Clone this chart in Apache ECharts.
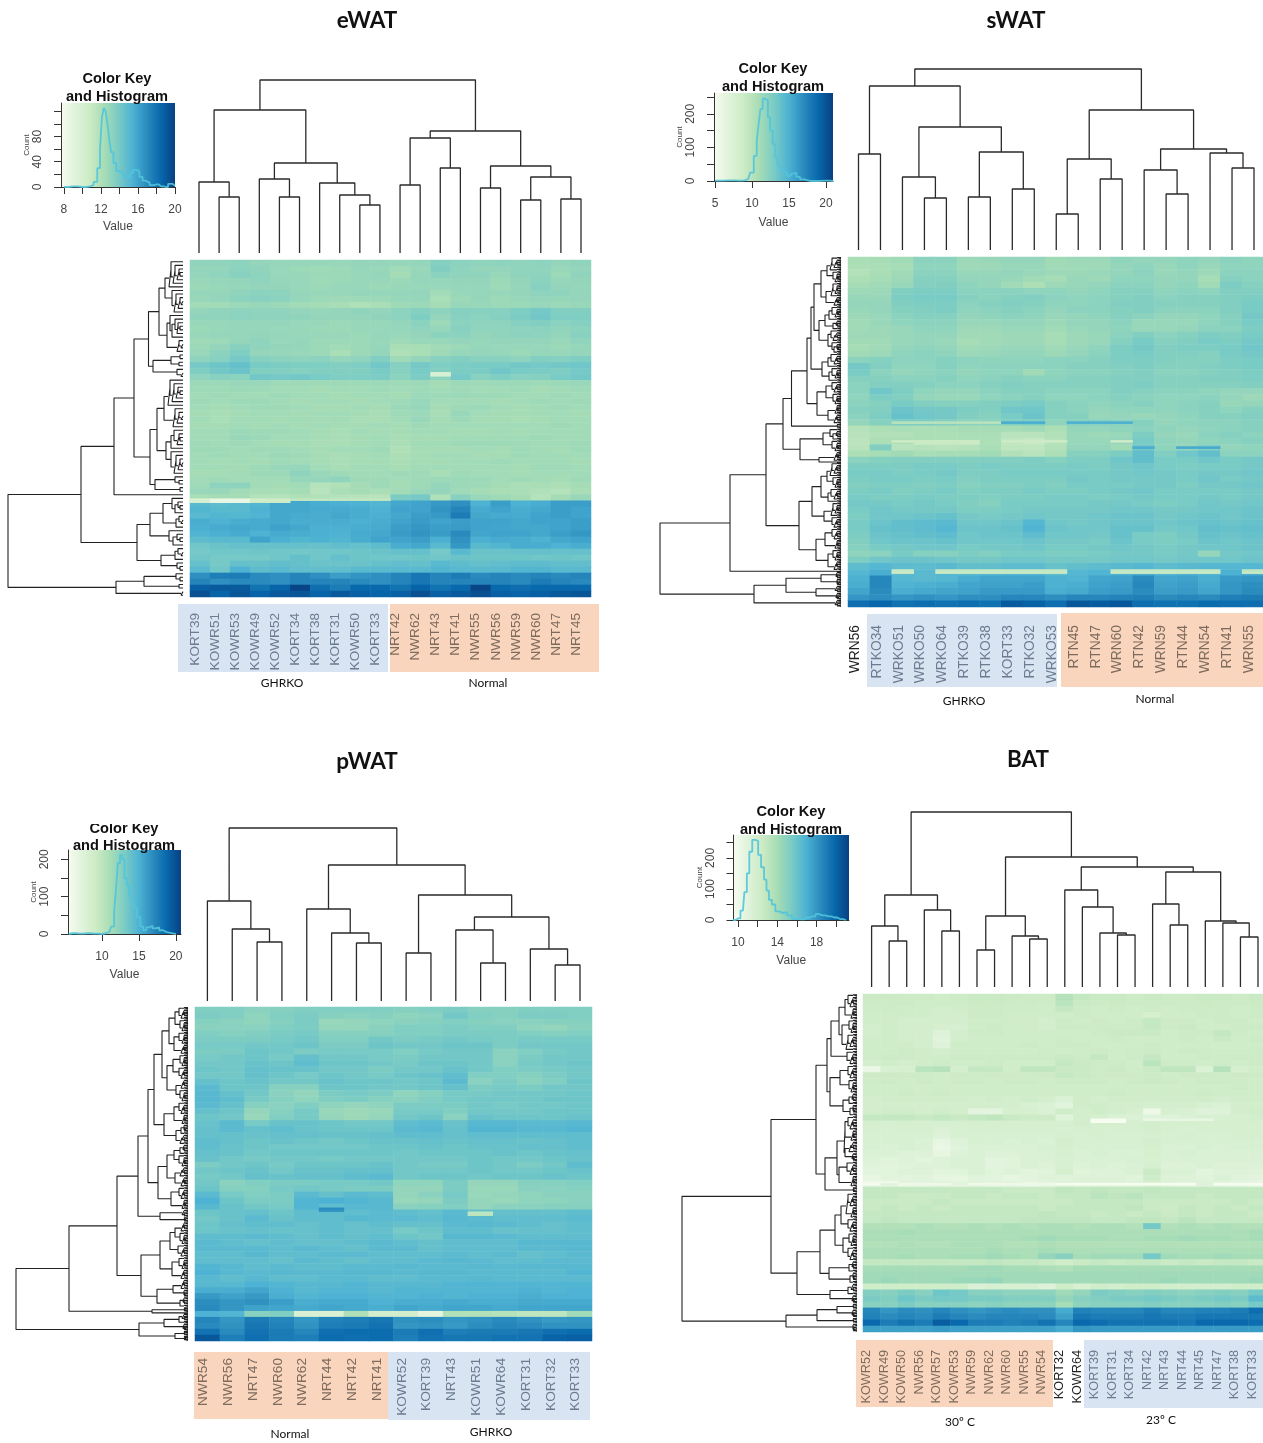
<!DOCTYPE html>
<html><head><meta charset="utf-8">
<style>html,body{margin:0;padding:0;background:#fff}#c{width:1263px;height:1443px}#c canvas{filter:blur(.45px)}</style>
<script src="https://cdn.jsdelivr.net/npm/echarts@6/dist/echarts.min.js"></script>
</head><body><div id="c"></div>
<script>
// ---- sample labels
const eWATLabels=['KORT39','KOWR51','KOWR53','KOWR49','KOWR52','KORT34','KORT38','KORT31','KOWR50','KORT33','NRT42','NWR62','NRT43','NRT41','NWR55','NWR56','NWR59','NWR60','NRT47','NRT45'];
const sWATLabels=['WRN56','RTKO34','WRKO51','WRKO50','WRKO64','RTKO39','RTKO38','KORT33','RTKO32','WRKO53','RTN45','RTN47','WRN60','RTN42','WRN59','RTN44','WRN54','RTN41','WRN55'];
const pWATLabels=['NWR54','NWR56','NRT47','NWR60','NWR62','NRT44','NRT42','NRT41','KOWR52','KORT39','NRT43','KOWR51','KOWR64','KORT31','KORT32','KORT33'];
const BATLabels=['KOWR52','KOWR49','KOWR50','NWR56','KOWR57','KOWR53','NWR59','NWR62','NWR60','NWR55','NWR54','KORT32','KOWR64','KORT39','KORT31','KORT34','NRT42','NRT43','NRT44','NRT45','NRT47','KORT38','KORT33'];

// ---- expression values (value x 10), top row first
const eWATRows=[
[131,131,132,130,129,129,129,128,130,130,129,130,135,133,131,132,131,132,130,131],
[130,130,133,131,128,127,126,127,129,128,125,128,136,132,130,130,131,131,128,130],
[130,131,134,132,128,128,127,127,128,129,124,129,133,131,131,128,131,132,127,131],
[128,129,130,131,129,128,126,127,128,128,127,129,129,130,130,127,130,133,129,130],
[127,128,129,130,130,128,127,128,128,127,128,128,128,129,129,126,129,134,130,129],
[129,129,131,133,132,129,128,128,129,129,129,130,125,128,129,128,130,132,131,130],
[128,130,133,134,133,129,127,126,127,127,128,129,122,127,129,127,128,130,129,130],
[125,125,127,128,127,125,124,123,120,122,126,127,124,128,128,127,127,128,127,128],
[130,131,132,131,131,130,129,130,131,130,132,135,132,135,134,134,137,140,136,136],
[131,131,133,132,132,131,130,130,130,131,132,137,130,134,133,135,138,141,137,137],
[128,128,129,129,130,128,128,127,128,128,130,133,127,133,132,132,135,136,133,135],
[127,128,129,129,128,128,127,127,128,128,129,131,129,134,131,131,132,133,131,133],
[128,129,129,130,129,128,128,128,127,129,128,130,133,133,130,131,133,132,130,134],
[126,127,130,131,128,129,127,127,127,128,126,128,128,130,129,130,130,130,128,131],
[127,130,134,131,130,129,127,125,127,129,122,123,125,127,129,128,128,128,127,129],
[128,133,137,130,129,128,127,122,127,130,120,122,126,129,130,129,127,129,128,130],
[132,134,140,135,133,132,133,130,131,136,126,130,134,136,134,134,132,136,135,137],
[140,143,146,139,138,137,137,136,137,141,135,140,137,138,139,139,141,140,141,142],
[137,141,144,136,136,135,136,136,136,139,134,139,136,138,138,142,139,138,137,140],
[131,134,133,141,140,141,139,137,137,138,133,138,132,140,134,137,134,135,139,141],
[127,127,128,128,126,126,126,126,126,127,126,127,124,127,126,127,127,126,127,128],
[126,126,127,126,125,125,124,125,125,126,125,126,125,126,125,125,126,124,125,126],
[125,126,125,125,126,125,125,124,125,125,124,127,126,127,126,126,125,125,126,125],
[126,125,126,127,125,124,125,125,124,125,126,128,125,125,125,124,125,126,125,126],
[125,124,125,126,126,125,124,124,125,124,127,129,124,126,127,125,124,125,126,125],
[124,123,124,125,125,124,125,125,124,123,126,127,123,128,125,124,124,125,125,124],
[125,122,125,125,124,125,124,125,123,123,125,128,124,127,124,124,123,124,125,125],
[124,124,125,124,125,124,125,124,124,125,124,126,125,125,125,125,125,125,126,125],
[125,125,127,126,126,125,124,123,125,124,124,125,125,124,124,125,124,125,125,125],
[125,125,128,127,125,125,124,123,124,125,123,124,124,125,125,125,125,126,125,125],
[126,125,126,125,124,124,123,122,124,125,122,125,125,126,126,126,126,125,125,126],
[126,126,125,126,126,125,124,125,125,126,120,124,124,124,125,124,126,125,124,126],
[125,126,125,125,127,126,124,123,124,125,121,124,125,125,124,124,126,125,125,125],
[125,124,125,124,126,125,124,122,124,124,122,124,124,125,125,126,125,125,125,124],
[125,125,124,126,128,129,125,123,125,125,123,125,125,125,125,125,124,126,126,125],
[124,124,125,127,127,132,128,126,125,125,126,126,123,126,125,125,124,125,125,125],
[125,126,125,125,125,129,130,131,126,126,125,126,127,127,127,125,126,125,124,126],
[126,132,132,125,124,125,118,120,124,126,124,126,130,127,126,124,122,123,121,124],
[128,128,125,123,122,124,116,122,124,122,125,128,130,126,124,123,122,120,118,123],
[122,124,124,118,118,120,120,118,116,116,138,140,120,134,128,126,124,118,124,128],
[150,148,150,152,158,158,156,155,154,152,158,160,164,168,154,162,154,156,162,162],
[152,150,150,154,158,158,157,157,156,154,160,160,166,172,157,160,156,158,162,160],
[150,152,151,153,158,157,156,158,156,155,158,162,164,176,158,157,157,160,162,160],
[156,154,156,157,158,156,156,156,155,156,160,163,160,162,160,160,158,160,160,162],
[155,157,158,157,161,158,155,155,156,157,162,165,162,163,160,159,158,158,160,162],
[153,155,157,154,157,156,155,154,157,158,163,166,163,170,159,160,160,158,162,165],
[148,150,150,160,155,152,154,152,156,160,160,162,155,167,155,157,156,154,158,160],
[142,144,146,145,146,146,145,147,146,148,156,158,150,165,150,152,156,156,154,156],
[140,142,142,143,142,141,142,142,143,144,146,146,140,150,144,144,145,146,145,146],
[142,140,140,140,142,146,142,146,143,142,142,143,142,144,143,143,143,142,143,142],
[146,140,146,145,147,146,144,144,144,146,147,146,150,148,146,147,148,148,147,147],
[150,142,154,148,150,147,147,147,150,150,150,150,152,150,150,150,152,152,150,150],
[168,175,176,170,168,172,168,162,166,168,172,178,172,176,170,172,170,172,170,172],
[172,168,170,170,168,172,172,172,170,168,172,178,172,172,172,172,170,176,172,170],
[188,190,190,180,186,198,182,176,184,184,180,186,180,184,198,184,182,184,184,184],
[194,186,192,186,190,192,186,190,188,186,188,194,188,190,194,188,186,188,190,192]];

const sWATRows=[
[108,110,112,122,122,114,116,118,118,112,114,114,120,118,118,120,118,122,120],
[106,108,110,120,120,113,114,116,116,112,113,113,118,120,116,120,116,120,120],
[103,108,112,122,122,116,116,118,116,114,114,116,118,122,116,118,114,122,122],
[106,110,114,124,124,118,118,116,112,110,116,114,120,120,118,118,110,124,122],
[110,112,116,125,126,120,118,112,106,114,116,118,122,122,118,120,112,128,124],
[113,114,126,128,128,122,122,122,120,120,118,120,124,124,120,122,120,126,126],
[116,116,128,130,130,124,122,124,126,122,120,122,124,126,122,124,124,126,128],
[118,118,126,128,128,122,124,126,124,120,120,122,126,126,124,124,124,126,130],
[116,118,124,126,128,120,122,124,122,118,122,122,124,126,122,122,122,126,130],
[114,116,122,124,124,118,120,122,120,116,118,120,124,122,118,118,120,124,132],
[112,116,120,122,122,116,116,118,118,114,118,118,122,116,116,116,120,124,130],
[112,114,116,120,120,114,114,116,116,112,116,118,120,116,116,118,122,122,128],
[114,114,116,118,118,112,112,114,114,110,114,116,122,126,122,124,128,126,130],
[112,112,116,118,116,110,112,114,114,110,114,116,124,130,124,126,130,128,132],
[110,112,118,120,118,112,114,116,116,112,116,120,128,132,126,128,128,130,134],
[112,114,120,122,120,114,116,118,118,114,118,122,128,130,126,126,124,130,132],
[122,124,122,122,124,122,120,120,120,122,122,124,128,128,126,124,124,128,130],
[132,126,120,120,124,120,122,122,122,122,124,124,126,128,124,124,126,128,130],
[130,122,118,120,122,118,120,120,112,120,122,122,124,126,122,122,124,126,128],
[124,124,122,122,124,120,122,124,122,122,124,124,126,126,124,124,126,126,128],
[122,126,126,124,122,122,124,126,124,124,124,124,126,128,124,124,124,124,126],
[122,134,128,120,118,118,122,124,124,122,122,122,126,124,122,122,120,118,118],
[120,128,126,118,116,116,120,122,124,120,120,122,124,122,120,120,122,118,114],
[122,124,130,126,124,124,126,128,130,124,122,120,122,124,120,122,124,116,118],
[124,126,136,132,132,128,126,134,134,124,122,118,120,120,120,122,124,120,124],
[122,128,138,134,132,126,124,130,136,124,124,116,118,116,118,120,124,124,126],
[118,124,128,128,126,122,122,126,128,120,124,124,122,124,118,120,122,122,124],
[102,106,108,106,108,110,110,110,112,106,118,118,120,122,120,118,120,122,124],
[100,104,104,106,106,108,108,100,100,104,116,114,116,128,118,116,122,124,122],
[98,106,106,106,106,106,106,96,92,102,116,116,118,130,120,118,120,122,124],
[100,126,100,102,100,102,108,96,96,104,118,118,112,132,120,118,126,118,120],
[106,110,112,108,110,110,112,104,100,106,124,124,128,140,126,134,140,122,122],
[122,124,126,126,126,126,126,126,128,124,128,128,134,140,130,130,134,130,132],
[128,128,128,130,130,128,130,128,128,128,130,128,132,134,130,128,130,130,132],
[130,130,128,130,132,128,128,130,130,130,130,130,132,134,132,130,132,132,134],
[128,130,130,128,130,126,128,128,128,128,132,130,132,132,132,130,134,130,132],
[126,128,128,126,128,124,126,126,128,126,130,130,130,132,132,128,132,132,134],
[128,130,126,128,130,126,128,128,130,128,128,130,132,134,130,130,130,130,132],
[130,128,128,130,128,128,126,128,128,130,130,128,130,132,130,130,132,130,132],
[132,132,130,132,130,126,124,130,130,130,130,132,132,130,128,130,134,132,134],
[130,134,132,132,132,128,128,130,132,132,132,132,134,134,132,132,134,134,136],
[128,134,134,136,138,132,130,132,134,132,132,134,136,136,132,134,136,134,136],
[130,136,140,142,144,134,134,136,146,134,132,134,136,136,134,136,138,136,138],
[130,138,140,142,146,136,136,138,148,136,134,134,138,138,132,134,140,138,140],
[128,136,138,140,142,134,136,136,142,134,134,132,138,130,128,132,138,136,138],
[126,134,136,136,138,134,134,134,136,132,132,130,136,130,128,130,136,134,136],
[124,130,132,134,134,130,132,132,134,130,130,132,134,132,130,132,134,134,136],
[120,122,130,124,124,128,126,130,130,128,128,130,132,132,130,132,118,132,134],
[128,134,136,136,134,132,132,134,134,132,132,132,134,134,132,134,134,134,136],
[142,146,142,142,144,140,140,142,142,138,140,142,144,146,142,144,146,146,146],
[146,152,144,144,146,144,146,148,148,142,146,148,150,152,148,150,148,150,152],
[150,172,146,144,146,152,156,156,156,150,148,156,158,170,156,158,152,162,164],
[152,172,148,150,152,156,158,158,160,150,152,158,160,172,158,160,154,164,168],
[156,170,152,154,156,158,162,162,162,152,154,160,162,170,160,162,156,164,170],
[164,168,164,166,164,168,168,172,172,168,172,172,174,176,170,172,170,176,178],
[186,190,184,186,184,186,184,196,192,186,198,196,198,186,184,184,188,186,186]];

const pWATRows=[
[128,128,124,126,128,128,128,128,126,128,130,126,126,128,128,128],
[130,128,122,128,130,126,124,126,122,124,134,128,126,130,130,128],
[126,124,122,126,130,118,120,122,124,126,128,126,124,124,126,126],
[124,124,124,128,130,120,120,124,128,128,130,128,128,122,120,124],
[128,126,128,130,132,126,126,126,128,128,130,130,130,128,126,128],
[130,130,130,132,134,128,128,134,130,132,134,132,130,132,132,132],
[132,132,134,134,136,130,130,136,134,134,136,136,130,134,134,134],
[130,130,136,134,130,132,132,132,128,132,134,134,124,128,132,134],
[132,134,136,132,140,134,134,132,130,134,134,134,124,130,134,134],
[134,134,138,136,142,136,136,134,132,136,136,134,124,132,134,136],
[136,134,140,138,138,134,134,130,134,134,138,134,128,130,132,134],
[134,134,140,136,132,136,134,132,136,138,142,128,128,126,130,134],
[140,136,138,134,134,138,136,136,134,136,144,124,130,124,128,136],
[144,136,136,126,126,136,136,134,134,136,140,130,132,130,134,134],
[146,140,134,124,120,130,132,130,122,126,132,132,134,134,134,136],
[146,142,132,126,122,128,130,126,124,128,132,134,134,134,136,136],
[144,140,126,124,128,122,120,122,130,130,130,134,132,134,134,136],
[140,136,120,126,132,118,116,118,132,132,128,134,134,134,136,136],
[136,134,118,128,132,120,116,120,134,136,124,138,136,136,136,138],
[138,144,132,138,138,136,134,134,142,144,138,146,146,144,144,146],
[140,144,140,142,138,136,136,136,144,146,140,148,148,146,146,148],
[140,140,138,140,140,138,138,140,142,142,140,142,142,142,142,142],
[142,140,136,138,136,134,136,138,138,140,138,140,140,138,140,142],
[142,138,136,134,134,134,134,136,136,138,136,138,138,140,140,142],
[140,138,134,136,136,136,136,136,134,136,136,136,138,136,138,140],
[138,134,132,134,134,132,134,134,134,134,134,136,134,134,136,138],
[130,134,136,132,136,136,136,138,134,132,132,136,134,130,134,142],
[134,136,138,134,138,138,140,140,134,134,134,136,134,134,136,138],
[132,134,140,138,140,140,142,144,134,136,136,134,136,136,138,136],
[134,124,128,130,130,132,132,134,122,122,130,120,120,126,126,128],
[136,126,126,132,134,132,130,130,120,120,130,118,118,124,124,126],
[144,132,128,130,144,140,144,142,120,124,132,118,120,122,124,124],
[150,136,130,130,148,150,148,146,118,120,130,120,118,122,122,124],
[146,138,134,132,148,142,146,146,124,126,128,120,124,124,126,126],
[136,138,140,136,142,142,142,144,142,140,144,140,140,140,140,142],
[134,138,144,138,142,142,146,144,144,142,146,144,142,142,142,144],
[136,140,142,142,140,142,140,142,140,140,144,146,144,142,140,142],
[136,138,140,138,140,142,140,140,132,136,142,142,138,140,140,142],
[142,142,144,142,140,142,140,142,136,134,146,146,144,142,142,142],
[144,142,140,142,140,140,142,144,142,140,142,142,142,146,146,146],
[144,144,144,142,144,142,140,144,144,140,142,142,142,144,144,146],
[142,142,146,142,142,144,144,142,142,142,144,142,144,140,142,144],
[142,142,142,140,144,142,140,142,142,144,146,144,142,142,144,144],
[148,146,142,144,142,142,144,144,146,144,144,146,144,146,146,146],
[150,146,144,146,144,144,146,146,144,146,146,144,144,144,144,148],
[146,142,146,142,142,144,144,142,142,144,144,146,144,144,144,144],
[146,146,150,148,146,146,148,146,146,146,148,148,148,148,148,148],
[152,152,156,150,146,148,148,146,148,148,148,148,148,150,148,150],
[162,158,162,152,148,150,150,148,148,150,148,150,150,152,150,150],
[168,164,166,160,152,154,154,150,152,152,154,152,152,154,154,154],
[170,164,158,156,154,156,154,152,156,154,156,156,154,156,156,156],
[150,148,125,128,80,80,108,86,86,70,106,106,104,100,100,114],
[172,164,178,172,164,174,176,180,166,168,164,166,170,166,162,164],
[170,166,180,174,166,176,178,182,164,166,162,168,172,170,166,166],
[182,170,182,178,172,184,186,186,178,184,176,178,178,180,184,186],
[196,176,184,178,176,186,184,186,176,182,180,180,182,182,190,192]];

const BATRows=[
[125,125,124,124,122,124,126,126,125,124,124,134,128,126,126,124,126,124,124,126,126,124,126],
[124,124,124,122,122,123,125,125,124,124,123,132,126,124,125,124,124,124,124,125,124,124,125],
[123,124,122,122,120,122,124,124,123,123,122,128,124,122,124,122,124,122,124,124,124,122,124],
[122,122,122,122,120,120,124,124,122,122,122,122,124,122,122,122,118,122,122,124,124,122,124],
[122,122,120,120,120,120,122,122,122,122,120,124,122,124,122,124,128,124,124,122,124,124,122],
[120,122,120,120,118,118,122,124,122,122,120,124,124,124,124,124,128,124,126,122,122,124,124],
[120,122,120,120,112,120,124,124,122,122,122,122,122,124,126,126,126,122,124,124,128,124,122],
[122,122,120,120,110,120,122,122,122,122,122,124,122,122,124,122,122,122,124,122,126,122,124],
[122,122,122,120,112,122,122,122,122,124,122,124,124,122,122,122,124,122,122,122,122,122,122],
[122,122,124,122,120,122,122,122,122,122,124,122,124,124,122,124,124,122,124,124,122,122,124],
[122,124,124,122,122,124,124,124,124,124,124,126,124,128,122,124,128,122,122,124,124,124,124],
[120,122,120,122,124,122,122,124,122,122,122,128,126,124,124,122,132,124,124,122,124,122,124],
[104,116,118,132,134,120,128,128,122,130,130,126,126,124,126,122,126,130,130,114,134,118,122],
[124,124,124,124,122,124,124,124,124,124,124,128,126,124,124,124,124,122,124,124,124,124,124],
[123,124,122,124,122,124,124,122,124,124,122,124,124,124,122,124,126,124,122,124,124,124,122],
[122,122,122,122,122,122,122,122,122,122,122,122,122,122,122,122,122,122,122,122,122,124,122],
[122,122,124,122,124,122,122,122,122,122,122,122,122,122,124,122,122,122,122,124,122,122,122],
[120,122,122,122,122,122,120,122,120,122,120,114,122,120,122,122,122,122,122,122,120,122,122],
[120,120,120,120,120,120,120,120,120,116,114,110,122,122,120,120,118,120,120,116,114,120,120],
[120,122,122,120,122,120,108,108,118,118,114,122,120,122,120,118,102,118,116,112,112,120,122],
[128,128,128,126,128,126,128,130,126,124,124,110,120,118,114,114,110,112,114,116,116,118,120],
[118,118,118,118,118,118,118,118,118,118,118,118,120,118,118,118,120,118,118,118,118,118,118],
[118,116,118,118,114,116,118,118,118,118,118,116,118,118,118,118,120,118,116,118,118,118,118],
[116,116,116,116,112,116,116,116,116,116,116,118,116,118,116,116,118,116,118,116,116,118,118],
[116,116,116,114,106,112,116,116,114,116,114,120,116,116,116,116,120,116,116,116,116,116,116],
[116,114,116,114,104,110,114,114,114,114,116,118,116,116,116,116,118,114,114,116,114,116,116],
[114,114,112,112,106,112,114,112,112,114,114,118,114,116,114,114,118,114,116,114,114,114,114],
[112,110,112,108,112,114,114,108,110,114,114,116,114,114,114,116,116,114,114,114,114,114,114],
[110,108,110,112,112,114,114,108,110,114,112,116,112,114,112,114,118,112,112,114,112,112,112],
[108,110,112,112,108,110,114,110,112,108,110,118,110,112,112,114,126,114,114,108,112,112,110],
[106,108,108,110,106,106,110,108,106,108,112,110,112,112,112,110,122,112,112,110,114,110,108],
[110,110,108,108,110,108,110,108,108,106,108,112,112,112,112,112,116,112,110,112,110,108,106],
[128,128,128,128,128,128,128,128,126,126,126,130,128,130,128,128,130,128,128,128,128,128,128],
[128,128,126,126,126,128,128,126,128,128,126,128,128,132,130,132,128,128,128,126,128,128,128],
[126,126,126,126,128,126,126,126,126,126,126,126,128,128,128,128,126,126,126,126,126,128,126],
[126,128,126,128,126,128,128,128,128,128,126,128,128,128,128,130,126,124,128,126,128,126,128],
[128,128,128,128,128,128,128,128,128,128,130,128,128,126,128,126,128,126,128,126,128,128,126],
[128,130,128,128,128,128,128,128,128,130,130,130,130,128,128,130,130,128,132,128,128,128,128],
[136,136,136,138,136,136,138,136,138,136,138,138,136,138,138,136,156,136,138,136,138,136,136],
[138,138,140,138,138,138,138,138,138,138,138,138,138,138,138,138,138,138,138,138,138,138,140],
[138,138,138,138,138,138,138,138,138,140,142,140,140,140,138,138,140,140,142,140,140,138,140],
[136,136,138,136,136,138,138,138,136,136,138,136,136,136,136,136,136,136,136,136,136,136,136],
[138,138,138,138,138,138,138,140,138,138,140,138,138,138,138,138,138,138,138,138,138,138,138],
[138,138,140,138,138,140,140,142,140,138,146,150,140,142,142,142,156,142,140,140,142,140,140],
[128,128,128,128,128,128,128,130,128,128,126,122,126,128,126,128,128,126,128,126,128,128,126],
[140,140,140,140,140,140,142,142,140,140,138,136,140,140,140,140,140,140,140,140,140,140,140],
[142,142,142,142,142,142,142,142,142,142,142,142,142,142,142,142,142,142,142,142,142,142,142],
[142,144,142,142,142,144,144,146,142,142,142,142,142,142,142,142,142,144,142,142,142,142,144],
[122,122,122,122,122,122,114,116,116,116,112,122,116,122,120,122,122,120,120,120,120,122,122],
[152,150,154,150,158,156,150,150,148,148,148,142,146,154,152,150,152,150,148,150,152,150,156],
[154,152,158,154,156,156,154,154,152,152,152,146,150,152,154,154,156,154,152,154,156,154,164],
[150,150,154,150,150,150,148,150,148,148,148,140,148,150,150,150,152,150,150,150,152,150,156],
[186,180,184,182,186,182,180,182,184,182,182,172,188,186,186,186,190,186,186,188,188,190,196],
[188,184,186,184,190,186,184,186,186,186,184,176,192,190,190,190,192,190,190,192,192,192,192],
[198,190,194,190,202,198,190,190,188,190,194,186,198,196,194,194,194,194,192,198,198,198,196],
[176,176,176,176,178,176,176,176,176,176,176,172,180,178,178,178,178,178,178,178,178,178,178]];

// ---- single thin rows that stand out: fine row, first column, last column, value x 10
const eWATThin=[[119,0,0,95],[120,0,0,100],[119,1,2,85],[120,1,2,85],[119,3,4,104],[120,3,4,106],[119,5,9,112],[56,12,12,96],[57,12,12,98]];
const sWATThin=[[79,2,6,100],[79,7,8,152],[79,10,11,150],[79,12,12,150],[88,2,5,88],[88,7,9,88],[88,12,12,86],[89,3,5,90],[91,13,13,152],[91,15,16,154],[150,2,2,90],[151,2,2,88],[150,4,9,92],[151,4,9,90],[150,12,16,92],[151,12,16,90],[151,18,18,90],[150,18,18,94]];
const pWATThin=[[101,5,5,168],[102,5,5,165],[103,11,11,98],[104,11,11,102]];
const BATThin=[[94,0,0,94],[94,2,4,100],[94,6,10,100],[94,11,12,96],[94,13,18,90],[94,20,22,92],[93,0,1,100],[62,13,14,88],[63,13,14,92],[62,16,16,104],[62,17,19,106]];

// ---- histogram of the colour key: value, count
const eWATHistX=[8,9,10,10.8,11,11.4,11.8,12,12.2,12.4,12.6,12.8,13,13.2,13.5,13.8,14.2,14.6,15,15.3,15.6,16,16.3,16.7,17,17.5,18,18.5,19,19.5,20];
const eWATHistY=[0,1,0,1,3,8,30,60,110,125,120,100,75,55,38,25,22,17,15,22,27,25,16,10,7,3,4,1,0,5,2];
const sWATHistX=[5,7,8.5,9,9.5,10,10.5,10.8,11,11.3,11.6,12,12.3,12.6,13,13.3,13.6,14,14.5,15,15.5,15.8,16.2,16.8,17.5,18,20,21];
const sWATHistY=[1,2,1,2,6,25,75,120,170,215,245,240,190,150,110,70,45,30,25,15,22,25,12,5,2,0,1,0];
const pWATHistX=[5.5,6,7,8,9,10,10.5,11,11.5,11.8,12,12.3,12.6,12.9,13.2,13.5,13.8,14.2,14.5,15,15.4,15.8,16.2,16.7,17,17.5,18,18.5,19,19.5,20];
const pWATHistY=[0,2,1,2,1,0,2,5,20,60,120,190,212,200,150,130,105,90,70,45,20,10,18,22,15,18,10,5,3,1,0];
const BATHistX=[9.5,10,10.5,10.8,11,11.3,11.6,11.9,12.2,12.5,12.8,13,13.3,13.6,14,14.4,14.8,15.2,15.8,16.5,17,17.6,18.2,18.6,19.2,19.8,20.4,21];
const BATHistY=[0,5,30,90,150,220,258,255,210,170,130,95,65,50,28,22,25,15,3,2,8,12,20,15,12,8,3,0];

// ---- column dendrograms: [height, left, right], 0 = a leaf
const eWATColTree=[173,
 [143,[71,0,[56,0,0]],[90,[74,0,[56,0,0]],[70,0,[58,0,[48,0,0]]]]],
 [122,[115,[68,0,0],[85,0,0]],[87,[65,0,0],[76,[53,0,0],[54,0,0]]]]];
const sWATColTree=[181,
 [164,[96,0,0],[123,[73,0,[52,0,0]],[98,[53,0,0],[61,0,0]]]],
 [140,[91,[36,0,0],[71,0,0]],[101,[80,0,[56,0,0]],[97,0,[82,0,0]]]]];
const pWATColTree=[173,
 [100,0,[72,0,[59,0,0]]],
 [136,[92,0,[68,0,[58,0,0]]],[106,[48,0,0],[84,[71,0,[38,0,0]],[52,0,[36,0,0]]]]]];
const BATColTree=[175,
 [92,[61,0,[46,0,0]],[77,0,[56,0,0]]],
 [130,[71,[37,0,0],[51,0,[48,0,0]]],
  [120,[97,0,[80,0,[54,0,[52,0,0]]]],
   [115,[83,0,[62,0,0]],[66,0,[64,0,[50,0,0]]]]]]];

// ---- row dendrograms: L(...) is a small cluster with the heights read from the comb
const L=(...h)=>({ladder:h});
const eWATRowTree=[175,
 [102,
  [69,[49,
    [34.5,[24,[18,L(3,4,6,8,10,12,14),L(2,3,5,7,9,11)],[16,L(3,5,6,8,11,13),L(2,4,6)]],[30,[12,L(3),L(4)],L(2,6)]],
    [33,[26,[19,L(3,5,7,9,11,13,15),L(2,4,6,8,10)],[17,L(3,4,6,9,12),L(2,3,5,7,9,12)]],[28,L(4,8),L(3)]]],0],
  [46,[33,[20,L(3,5,8,11),L(2,4,7)],L(3,6,10,14)],[22,L(2,5,8),L(3,6)]]],
 [67,[39,L(3,7),L(4)],L(2)]];
const sWATRowTree=[181,
 [111,
  [75,
   [58,
    [49.5,[34,[30,[27,[20,[14,L(3,5,7,9,11),L(2,4,6,8)],[15,L(3,4,6,8,10),L(2,5,7)]],[22,[16,L(2,4,6,9,12),L(3,5,8)],[13,L(3,6,8,10),L(2,4,7,9)]]],[19,L(3,5,7,10,13),L(2,4,6,9,12)]],
      [24,[15,L(3,5,7,9),L(2,4,6,8)],[13,L(2,4,6),L(3,5,7)]]],L(3)],
    [41,[18,L(3,5,8,11),L(2,4,6,9)],[22,L(2,5,7),0]]],
   [42,[29,[20,[14,L(3,5,7,9,11),L(2,4,6,8)],L(3,5,7,10,13)],[17,L(2,4,6,8,10),L(3,5,7,9)]],
     [25,[16,L(3,5,7,9),L(2,4,6)],[13,L(2,4,6,8),L(3,5,7)]]]],0],
 [87,[55,[20,L(3,5),L(2,4)],[25,L(3,6),L(2,5)]],L(3,6)]];
const pWATRowTree=[172,
 [119,
  [71,
   [50,
    [40,[34,[26,[19,[13,L(3,5,7,9),L(2,4,6,8)],[14,L(3,4,6,9),L(2,5,7)]],[21,[15,L(2,4,6,8),L(3,5,7,9)],[12,L(3,5,7),L(2,4,6,8)]]],
      [24,[14,L(3,5,7,9),L(2,4,6)],[12,L(2,4,7),L(3,6,8)]]],
     [30,[21,[14,L(3,5,8),L(2,4,6,9)],[13,L(3,6,8),L(2,5,7)]],[17,L(3,5,7,9),L(2,4,6)]]],
    [28,L(3,6),L(2)]],
   [47,[28,[18,[13,L(3,5,7),L(2,4,6,8)],L(3,5,7,10)],[16,L(2,4,6,9),L(3,5,7)]],[31,[15,L(3,5,7),L(2,4)],L(3,5,8)]]],
  [36,L(2),0]],
 [49,[24,L(3,6,9),L(2,5)],[13,L(3),L(2)]]];
const BATRowTree=[175,
 [86,
  [41,[30,[26,[18,[12,L(3,5,7,9),L(2,4,6)],[15,L(2,4,6,8),L(3,5,7,9,11)]],L(3,5,7,10)],[27,[17,L(3,5,7,9),L(2,4,6,8)],[14,L(3,5,8),L(2,4,7)]]],
   [32,[20,[13,[12,L(3,5,7,9),L(2,4,6)],[12,L(3,6,8),L(2,5)]],[18,L(3,5,7,10),L(2,4,6)]],L(2)]],
  [60,[37,[22,[16,[11,L(3,5,7,9),L(2,4,6)],L(3,5,7,9)],[14,L(2,4,6,8),L(3,5,7,9)]],[28,L(3,5,8),L(2,4,7)]],[27,L(3,6,9),L(2,5)]]],
 [71,[40,[20,L(3),L(2,5)],L(3)],L(2,4)]];

// ---- colour key, sequential green to blue
const keyColors=['#f7fcf0','#e0f3db','#ccebc5','#a8ddb5','#7bccc4','#4eb3d3','#2b8cbe','#0868ac','#084081'];
const BLUE='#6c7c90',ORANGE='#7d6b5d',BLACK='#222';
const FINE_ROWS=168;

const panels=[
{name:'eWAT',rows:eWATRows,thin:eWATThin,labels:eWATLabels,colTree:eWATColTree,rowTree:eWATRowTree,hx:eWATHistX,hy:eWATHistY,tip:0,
 title:[367,21],key:[61,103,175,187],kx:[7.68,20],ky:133,xt:[8,10,12,14,16,18,20],xl:[8,12,16,20],yt:[0,20,40,60,80,100,120],yl:[0,40,80],
 keyT:[117,79,97],valueY:227,countGap:34,heat:[190,260,591,597],col:[199,80,581,253],row:[8,183],
 lab:[185,612,13.6],rects:[[178,604,388,672,'b'],[390,604,599,672,'o']],caps:[['GHRKO',282,683],['Normal',488,683]],tones:[[10,BLUE],[20,ORANGE]]},
{name:'sWAT',rows:sWATRows,thin:sWATThin,labels:sWATLabels,colTree:sWATColTree,rowTree:sWATRowTree,hx:sWATHistX,hy:sWATHistY,tip:4,
 title:[1016,21],key:[714,93,833,181],kx:[4.87,20.95],ky:262,xt:[5,10,15,20],xl:[5,10,15,20],yt:[0,50,100,150,200,250],yl:[0,100,200],
 keyT:[773,69,87],valueY:223,countGap:33,heat:[848,257,1264,607],col:[858.5,69,1254,250],row:[660,841],
 lab:[844,624,13.8],rects:[[867,614,1057,687,'b'],[1061,613,1263,687,'o']],caps:[['GHRKO',964,701],['Normal',1155,699]],tones:[[1,BLACK],[10,BLUE],[19,ORANGE]]},
{name:'pWAT',rows:pWATRows,thin:pWATThin,labels:pWATLabels,colTree:pWATColTree,rowTree:pWATRowTree,hx:pWATHistX,hy:pWATHistY,tip:4,
 title:[367,762],key:[68,850,181,934],kx:[5.4,20.7],ky:225,xt:[10,15,20],xl:[10,15,20],yt:[0,50,100,150,200],yl:[0,100,200],
 keyT:[124,829,846],valueY:975,countGap:33,heat:[195,1007,592,1341],col:[207.4,828,580,1001],row:[16,188],
 lab:[191,1357,13.7],rects:[[194,1352,388,1419,'o'],[388,1352,590,1420,'b']],caps:[['Normal',290,1434],['GHRKO',491,1432]],tones:[[8,ORANGE],[16,BLUE]],mask:[60,815,130,9]},
{name:'BAT',rows:BATRows,thin:BATThin,labels:BATLabels,colTree:BATColTree,rowTree:BATRowTree,hx:BATHistX,hy:BATHistY,tip:4,
 title:[1028,760],key:[733.5,835,849,920],kx:[9.54,21.3],ky:274,xt:[10,12,14,16,18,20],xl:[10,14,18],yt:[0,50,100,150,200,250],yl:[0,100,200],
 keyT:[791,812,830],valueY:961,countGap:34,heat:[863,994,1266,1332],col:[871.6,812,1258,987],row:[682,857],
 lab:[858,1349,12.7],rects:[[856,1340,1053,1407,'o'],[1084,1340,1263,1408,'b']],caps:[['30º C',960,1422],['23º C',1161,1420]],tones:[[11,ORANGE],[13,BLACK],[23,BLUE]]}
];

function expand(n,tip){
  if(n&&n.ladder){
    const leaf=tip?[tip,0,0]:0;
    const build=i=>{const h=n.ladder[i];
      if(i===0)return [h,leaf,leaf];
      return i%2?[h,leaf,build(i-1)]:[h,build(i-1),leaf];};
    return build(n.ladder.length-1);
  }
  return n;
}
function treeLines(root,vertical,tip){
  const pts=[];let next=0;
  const P=(pos,h)=>vertical?[pos,h]:[h,pos];
  const walk=n0=>{
    const n=expand(n0,tip);
    if(!Array.isArray(n))return {pos:next++,h:0};
    const a=walk(n[1]),b=walk(n[2]);
    pts.push(P(a.pos,a.h),P(a.pos,n[0]),P(b.pos,n[0]),P(b.pos,b.h),[null,null]);
    return {pos:(a.pos+b.pos)/2,h:n[0]};
  };
  walk(root);
  return {pts,leaves:next};
}

const grid=[],xAxis=[],yAxis=[],series=[],visualMap=[],graphic=[];
const OFF={outerBoundsMode:'none',containLabel:false};
const T=(text,x,y,font,fill,z)=>({type:'text',x,y,z:z||5,silent:true,style:{text,align:'center',verticalAlign:'middle',font,fill}});
const stops=keyColors.map((c,i)=>({offset:i/(keyColors.length-1),color:c}));

panels.forEach(p=>{
  const addGrid=(l,t,r,b,extra)=>{grid.push(Object.assign({left:l,top:t,width:r-l,height:b-t},OFF,extra||{}));return grid.length-1;};
  // heatmap
  let g=addGrid(p.heat[0],p.heat[1],p.heat[2],p.heat[3]);
  xAxis.push({gridIndex:g,type:'category',data:p.labels,show:false});
  yAxis.push({gridIndex:g,type:'category',data:p.rows.map((_,i)=>i),inverse:true,show:false});
  const data=[];
  p.rows.forEach((row,r)=>row.forEach((v,c)=>data.push([c,r,v/10])));
  series.push({type:'heatmap',name:p.name,xAxisIndex:g,yAxisIndex:g,data,progressive:0,animation:false,silent:true,itemStyle:{borderWidth:0}});
  const heatIdx=series.length-1;
  // thin rows on a finer row scale
  g=addGrid(p.heat[0],p.heat[1],p.heat[2],p.heat[3]);
  xAxis.push({gridIndex:g,type:'category',data:p.labels,show:false});
  yAxis.push({gridIndex:g,type:'category',data:Array.from({length:FINE_ROWS},(_,i)=>i),inverse:true,show:false});
  const thin=[];
  p.thin.forEach(t=>{for(let c=t[1];c<=t[2];c++)thin.push([c,t[0],t[3]/10]);});
  series.push({type:'heatmap',name:p.name+' thin rows',xAxisIndex:g,yAxisIndex:g,data:thin,progressive:0,animation:false,silent:true,z:3,itemStyle:{borderWidth:0}});
  visualMap.push({show:false,type:'continuous',seriesIndex:[heatIdx,heatIdx+1],dimension:2,min:p.kx[0],max:p.kx[1],inRange:{color:keyColors}});
  // column dendrogram
  const ct=treeLines(p.colTree,true,0);
  g=addGrid(p.col[0],p.col[1],p.col[2],p.col[3]);
  xAxis.push({gridIndex:g,type:'value',min:0,max:ct.leaves-1,show:false});
  yAxis.push({gridIndex:g,type:'value',min:0,max:p.colTree[0],show:false});
  series.push({type:'line',xAxisIndex:g,yAxisIndex:g,data:ct.pts,showSymbol:false,symbol:'none',clip:false,animation:false,silent:true,connectNulls:false,lineStyle:{color:'#2a2a2a',width:1.3}});
  // row dendrogram
  const rt=treeLines(p.rowTree,false,p.tip);
  g=addGrid(p.row[0],p.heat[1],p.row[1],p.heat[3]);
  xAxis.push({gridIndex:g,type:'value',min:0,max:p.rowTree[0],inverse:true,show:false});
  yAxis.push({gridIndex:g,type:'value',min:-0.5,max:rt.leaves-0.5,inverse:true,show:false});
  series.push({type:'line',xAxisIndex:g,yAxisIndex:g,data:rt.pts,showSymbol:false,symbol:'none',clip:false,animation:false,silent:true,connectNulls:false,lineStyle:{color:'#222',width:1.1}});
  // colour key with histogram
  const kCol='#333',kTxt='#444';
  g=addGrid(p.key[0],p.key[1],p.key[2],p.key[3],{show:true,borderWidth:0,backgroundColor:new echarts.graphic.LinearGradient(0,0,1,0,stops)});
  xAxis.push({gridIndex:g,type:'value',min:p.kx[0],max:p.kx[1],splitLine:{show:false},
    axisLine:{show:true,onZero:false,lineStyle:{color:kCol,width:1}},
    axisTick:{show:true,length:7,customValues:p.xt,lineStyle:{color:kCol}},
    axisLabel:{show:true,customValues:p.xl,margin:17,color:kTxt,fontSize:12,fontFamily:'Liberation Sans',formatter:v=>String(v),hideOverlap:false,showMinLabel:true,showMaxLabel:true},
    name:'Value',nameLocation:'middle',nameGap:p.valueY-p.key[3],nameTextStyle:{color:kTxt,fontSize:12,fontFamily:'Liberation Sans',verticalAlign:'middle'}});
  yAxis.push({gridIndex:g,type:'value',min:0,max:p.ky,splitLine:{show:false},
    axisLine:{show:true,onZero:false,lineStyle:{color:kCol,width:1}},
    axisTick:{show:true,length:7,customValues:p.yt,lineStyle:{color:kCol}},
    axisLabel:{show:true,customValues:p.yl,rotate:90,margin:17,color:kTxt,fontSize:12,fontFamily:'Liberation Sans',formatter:v=>String(v),hideOverlap:false},
    name:'Count',nameLocation:'middle',nameGap:p.countGap,nameTextStyle:{color:kTxt,fontSize:8,fontFamily:'Liberation Sans',verticalAlign:'middle'}});
  series.push({type:'line',xAxisIndex:g,yAxisIndex:g,data:p.hx.map((x,i)=>[x,p.hy[i]]),step:'middle',showSymbol:false,symbol:'none',animation:false,silent:true,lineStyle:{color:'#52c4dc',width:1.8,opacity:.9}});
  // sample labels
  const w=p.heat[2]-p.heat[0];
  g=addGrid(p.lab[0],p.lab[1],p.lab[0]+w,p.lab[1]+1);
  xAxis.push({gridIndex:g,type:'category',data:p.labels,axisLine:{show:false},axisTick:{show:false},
    axisLabel:{show:true,interval:0,rotate:90,margin:0,fontSize:p.lab[2],fontFamily:'Liberation Sans',
      color:(v,i)=>{for(const t of p.tones){if(i<t[0])return t[1];}return '#333';}}});
  yAxis.push({gridIndex:g,type:'value',show:false});
  // group backgrounds and text
  p.rects.forEach(r=>graphic.push({type:'rect',z:-1,silent:true,shape:{x:r[0],y:r[1],width:r[2]-r[0],height:r[3]-r[1]},style:{fill:r[4]==='b'?'#d9e4f3':'#fad5bd'}}));
  p.caps.forEach(c=>graphic.push(T(c[0],c[1],c[2],'12px Lato','#111')));
  graphic.push(T(p.name,p.title[0],p.title[1],'bold 22.5px Lato','#111'));
  graphic.push(T('Color Key',p.keyT[0],p.keyT[1],'bold 14.6px Liberation Sans','#111'));
  graphic.push(T('and Histogram',p.keyT[0],p.keyT[2],'bold 14.6px Liberation Sans','#111',6));
  if(p.mask)graphic.push({type:'rect',z:20,silent:true,shape:{x:p.mask[0],y:p.mask[1],width:p.mask[2],height:p.mask[3]},style:{fill:'#fff'}});
});

const chart=echarts.init(document.getElementById('c'),null,{renderer:'canvas'});
chart.setOption({animation:false,backgroundColor:'#fff',grid,xAxis,yAxis,visualMap,series,graphic:{elements:graphic}});
</script></body></html>
